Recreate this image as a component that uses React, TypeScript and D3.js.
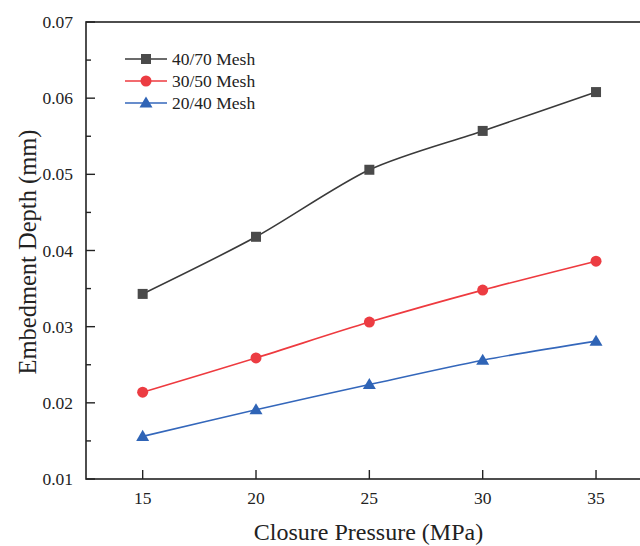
import React, { useEffect, useRef } from "react";
import * as d3 from "d3";

const pressures = [15, 20, 25, 30, 35];
const mesh4070 = [0.0343, 0.0418, 0.0506, 0.0557, 0.0608];
const mesh3050 = [0.0214, 0.0259, 0.0306, 0.0348, 0.0386];
const mesh2040 = [0.0156, 0.0191, 0.0224, 0.0256, 0.0281];
const seriesNames = ["40/70 Mesh", "30/50 Mesh", "20/40 Mesh"];
const xTicks = [15, 20, 25, 30, 35];
const yTicks = [0.01, 0.02, 0.03, 0.04, 0.05, 0.06, 0.07];

const W = 640;
const H = 546;
const FONT = "Liberation Serif";

export default function App() {
  const ref = useRef<SVGSVGElement | null>(null);

  useEffect(() => {
    const svg = d3.select(ref.current);
    svg.selectAll("*").remove();

    const left = 86, top = 22, bottom = 479;
    const x = d3.scaleLinear().domain([12.5, 37.5]).range([left, left + 566.7]);
    const y = d3.scaleLinear().domain([0.01, 0.07]).range([bottom, top]);
    const right = x(37.5);

    const series = [
      { name: seriesNames[0], values: mesh4070, line: "#3a3a3a", fill: "#4a4a4a", shape: "square" },
      { name: seriesNames[1], values: mesh3050, line: "#ee3a3f", fill: "#ec3c42", shape: "circle" },
      { name: seriesNames[2], values: mesh2040, line: "#3467bb", fill: "#2f64b6", shape: "triangle" },
    ];

    const g = svg.append("g").style("font-family", FONT);

    // frame
    g.append("rect")
      .attr("x", left).attr("y", top)
      .attr("width", right - left).attr("height", bottom - top)
      .attr("fill", "none").attr("stroke", "#222").attr("stroke-width", 1.6);

    // y ticks (inward), major + minor
    const ymin = d3.range(0.015, 0.07, 0.01);
    yTicks.forEach((t) => {
      g.append("line").attr("x1", left).attr("x2", left + 9)
        .attr("y1", y(t)).attr("y2", y(t)).attr("stroke", "#222").attr("stroke-width", 1.4);
      g.append("text").attr("x", left - 13).attr("y", y(t) + 6)
        .attr("text-anchor", "end").style("font-family", FONT).attr("font-size", 17.5)
        .attr("fill", "#222").text(d3.format(".2f")(t));
    });
    ymin.forEach((t) => {
      g.append("line").attr("x1", left).attr("x2", left + 5)
        .attr("y1", y(t)).attr("y2", y(t)).attr("stroke", "#222").attr("stroke-width", 1.4);
    });

    // x ticks
    xTicks.forEach((t) => {
      g.append("line").attr("x1", x(t)).attr("x2", x(t))
        .attr("y1", bottom).attr("y2", bottom - 9).attr("stroke", "#222").attr("stroke-width", 1.4);
      g.append("text").attr("x", x(t)).attr("y", bottom + 25)
        .attr("text-anchor", "middle").style("font-family", FONT).attr("font-size", 17.5)
        .attr("fill", "#222").text(String(t));
    });

    // axis titles
    g.append("text").attr("x", 368.5).attr("y", 540)
      .attr("text-anchor", "middle").style("font-family", FONT).attr("font-size", 24)
      .attr("fill", "#222").text("Closure Pressure (MPa)");
    g.append("text")
      .attr("transform", `translate(36, 252) rotate(-90)`)
      .attr("text-anchor", "middle").style("font-family", FONT).attr("font-size", 24.5)
      .attr("fill", "#222").text("Embedment Depth (mm)");

    const lineGen = d3.line<number>()
      .x((_, i) => x(pressures[i]))
      .y((d) => y(d))
      .curve(d3.curveCardinal.tension(0.15));

    const drawMarker = (sel: any, shape: string, cx: number, cy: number, fill: string) => {
      if (shape === "square") {
        sel.append("rect").attr("x", cx - 5).attr("y", cy - 5).attr("width", 10).attr("height", 10)
          .attr("fill", fill);
      } else if (shape === "circle") {
        sel.append("circle").attr("cx", cx).attr("cy", cy).attr("r", 5.5).attr("fill", fill);
      } else {
        const s = 6.5;
        sel.append("path")
          .attr("d", `M${cx},${cy - s} L${cx + s},${cy + s * 0.7} L${cx - s},${cy + s * 0.7}Z`)
          .attr("fill", fill);
      }
    };

    series.forEach((s) => {
      g.append("path").attr("d", lineGen(s.values) as string)
        .attr("fill", "none").attr("stroke", s.line).attr("stroke-width", 1.6);
      s.values.forEach((v, i) => drawMarker(g, s.shape, x(pressures[i]), y(v), s.fill));
    });

    // legend
    const legY = [59, 81, 103];
    series.forEach((s, i) => {
      const ly = legY[i];
      g.append("line").attr("x1", 125).attr("x2", 167).attr("y1", ly).attr("y2", ly)
        .attr("stroke", s.line).attr("stroke-width", 1.6);
      drawMarker(g, s.shape, 146, ly, s.fill);
      g.append("text").attr("x", 172).attr("y", ly + 6)
        .style("font-family", FONT).attr("font-size", 17.5).attr("fill", "#222").text(s.name);
    });
  }, []);

  return (
    <svg ref={ref} width={W} height={H}
      style={{ position: "absolute", left: 0, top: 0, background: "#fff" }} />
  );
}
